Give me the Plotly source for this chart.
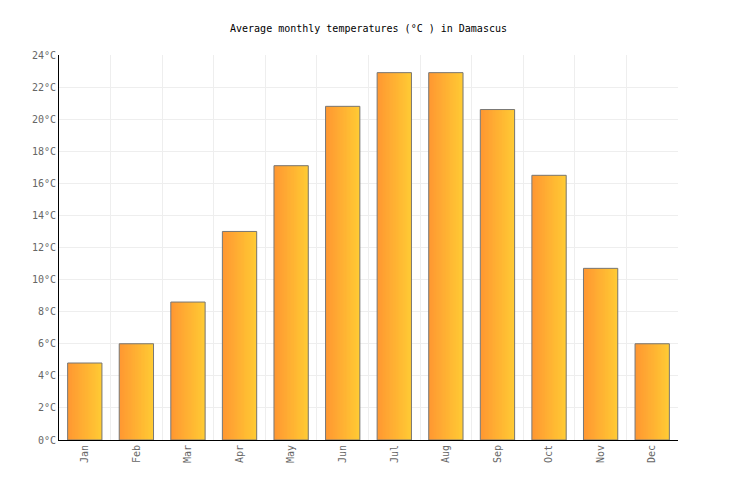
import plotly.graph_objects as go

months = ["Jan", "Feb", "Mar", "Apr", "May", "Jun", "Jul", "Aug", "Sep", "Oct", "Nov", "Dec"]
temps = [4.8, 6.0, 8.6, 13.0, 17.1, 20.8, 22.9, 22.9, 20.6, 16.5, 10.7, 6.0]
y_ticks = list(range(0, 25, 2))

# bar fill goes orange -> yellow left to right, fake it with thin slices
bar_w = 0.665
n_slices = 24
c0 = (255, 152, 50)
c1 = (255, 202, 52)

fig = go.Figure()
step = bar_w / n_slices
for k in range(n_slices):
    t = k / (n_slices - 1)
    col = "rgb(%d,%d,%d)" % tuple(round(a + (b - a) * t) for a, b in zip(c0, c1))
    w = step * 2 if k < n_slices - 1 else step
    fig.add_trace(go.Bar(
        x=months, y=temps,
        width=w,
        offset=-bar_w / 2 + k * step,
        marker=dict(color=col, line=dict(width=0)),
        hoverinfo="skip", showlegend=False,
    ))

# outline
fig.add_trace(go.Bar(
    x=months, y=temps, width=bar_w, offset=-bar_w / 2,
    marker=dict(color="rgba(0,0,0,0)", line=dict(color="#777777", width=1)),
    showlegend=False,
))

fig.update_layout(
    barmode="overlay",
    width=736, height=500,
    margin=dict(l=51, r=66, t=47, b=68),
    paper_bgcolor="white", plot_bgcolor="white",
    font=dict(family="DejaVu Sans Mono", size=10, color="#666666"),
    title=dict(text="Average monthly temperatures (°C ) in Damascus",
               xref="paper", x=0.5, xanchor="center", y=0.96, yanchor="middle",
               font=dict(family="DejaVu Sans Mono", size=10, color="black")),
)
fig.update_xaxes(
    type="category", tickson="boundaries", showgrid=True, gridcolor="#eeeeee",
    gridwidth=1, ticks="", tickangle=-90, showline=True, linecolor="black",
    linewidth=1, range=[-0.5, 11.5],
)
fig.update_yaxes(
    range=[0, 24], tickvals=y_ticks, ticktext=["%d°C" % v for v in y_ticks],
    showgrid=True, gridcolor="#eeeeee", gridwidth=1, showline=True,
    linecolor="black", linewidth=1, ticks="", zeroline=False,
)

fig.write_html("out.html")
